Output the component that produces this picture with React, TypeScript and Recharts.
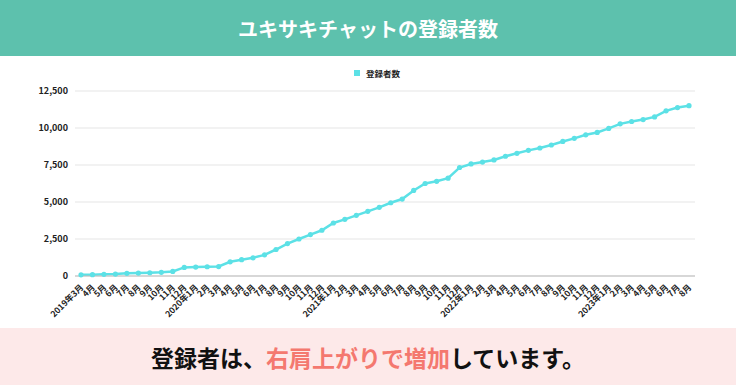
import React from "react";
import { LineChart, Line, XAxis, YAxis, CartesianGrid, Legend } from "recharts";

const months = [
  "2019年3月", "4月", "5月", "6月", "7月", "8月", "9月", "10月", "11月", "12月",
  "2020年1月", "2月", "3月", "4月", "5月", "6月", "7月", "8月", "9月", "10月", "11月", "12月",
  "2021年1月", "2月", "3月", "4月", "5月", "6月", "7月", "8月", "9月", "10月", "11月", "12月",
  "2022年1月", "2月", "3月", "4月", "5月", "6月", "7月", "8月", "9月", "10月", "11月", "12月",
  "2023年1月", "2月", "3月", "4月", "5月", "6月", "7月", "8月",
];

const registrations = [
  80, 90, 110, 130, 180, 200, 220, 250, 310, 580,
  600, 625, 640, 960, 1100, 1230, 1430, 1790, 2190, 2500, 2800, 3090,
  3580, 3830, 4100, 4370, 4640, 4950, 5200, 5780, 6250, 6400, 6610, 7330,
  7570, 7700, 7840, 8090, 8290, 8490, 8650, 8850, 9090, 9300, 9540, 9700,
  9970, 10280, 10440, 10570, 10750, 11160, 11380, 11510,
];

const yTicks = [0, 2500, 5000, 7500, 10000, 12500];

const data = months.map((m, i) => ({ month: `${i}|${m}`, value: registrations[i] }));

const FONT = '"Noto Sans CJK JP", "Noto Sans", sans-serif';
const LINE = "#5ce1e6";

function MonthTick({ x, y, payload }: any) {
  const label = String(payload.value).split("|")[1];
  const ty = y + 4;
  return (
    <text
      x={x + 3}
      y={ty}
      transform={`rotate(-45, ${x + 3}, ${ty})`}
      textAnchor="end"
      fontSize={8.5}
      fontWeight={700}
      fill="#222"
      fontFamily={FONT}
    >
      {label}
    </text>
  );
}

function LegendBox() {
  return (
    <div style={{ display: "flex", alignItems: "center", fontFamily: FONT, fontSize: 8.5, fontWeight: 700, color: "#222" }}>
      <span style={{ width: 6, height: 6, background: LINE, marginRight: 6, display: "inline-block" }} />
      登録者数
    </div>
  );
}

export default function App() {
  return (
    <div style={{ position: "absolute", left: 0, top: 0, width: 736, height: 385, background: "#fff", fontFamily: FONT, overflow: "hidden" }}>
      <div style={{ height: 56, background: "#5dc1ad", color: "#fff", fontSize: 20, fontWeight: 700, display: "flex", alignItems: "center", justifyContent: "center" }}>
        ユキサキチャットの登録者数
      </div>
      <div style={{ position: "absolute", top: 57, left: 0 }}>
        <LineChart width={736} height={271} data={data} margin={{ top: 34, right: 41, bottom: 0, left: 0 }}>
          <CartesianGrid vertical={false} stroke="#e6e6e6" strokeWidth={1.2} />
          <XAxis
            dataKey="month"
            interval={0}
            tick={<MonthTick />}
            tickLine={false}
            axisLine={{ stroke: "#bbb", strokeWidth: 1.2 }}
            padding={{ left: 6, right: 6 }}
            height={52}
          />
          <YAxis
            width={75}
            domain={[0, 12500]}
            ticks={yTicks}
            tickFormatter={(v: number) => v.toLocaleString("en-US")}
            axisLine={false}
            tickLine={false}
            tickMargin={1}
            tick={{ fontSize: 9, fontWeight: 700, fill: "#222", fontFamily: FONT }}
          />
          <Legend
            layout="horizontal"
            verticalAlign="middle"
            align="center"
            content={<LegendBox />}
            wrapperStyle={{ top: 10, left: 354, width: "auto", height: 14 }}
          />
          <Line
            type="linear"
            dataKey="value"
            name="登録者数"
            stroke={LINE}
            strokeWidth={2.5}
            dot={{ r: 2.6, fill: LINE, stroke: LINE, strokeWidth: 0 }}
            isAnimationActive={false}
          />
        </LineChart>
      </div>
      <div style={{ position: "absolute", top: 328, left: 0, width: 736, height: 57, background: "#fde9e9", display: "flex", alignItems: "center", justifyContent: "center", fontSize: 23, fontWeight: 700, color: "#111" }}>
        登録者は、<span style={{ color: "#f4786f" }}>右肩上がりで増加</span>しています。
      </div>
    </div>
  );
}
